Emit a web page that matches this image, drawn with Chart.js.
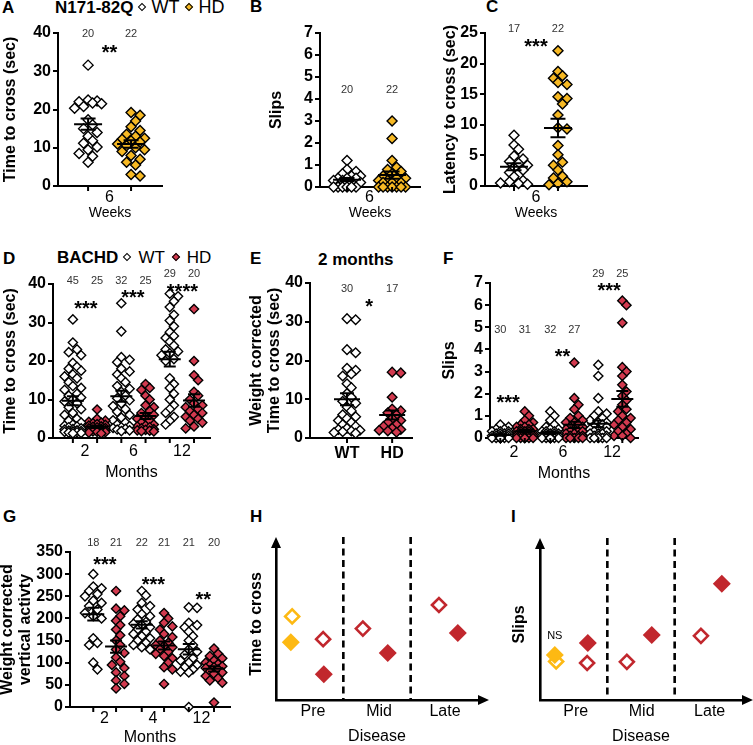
<!DOCTYPE html>
<html>
<head>
<meta charset="utf-8">
<script src="https://cdn.jsdelivr.net/npm/chart.js@4.4.1/dist/chart.umd.min.js"></script>
<style>
  html, body { margin: 0; padding: 0; background: #fff; }
  body { width: 753px; height: 745px; position: relative; overflow: hidden;
         font-family: "Liberation Sans", Arial, Helvetica, sans-serif; color: #000; }
  .box { position: absolute; }
  .lt { position: absolute; font-weight: bold; font-size: 17px; line-height: 1; }
  .hd { position: absolute; font-size: 18px; line-height: 1; white-space: nowrap; }
  .dm { display: inline-block; width: 4px; height: 4px; border: 1.5px solid #000;
        transform: rotate(45deg); vertical-align: 3px; }
</style>
</head>
<body>
<div class="lt" style="left:2px;top:-1px">A</div>
<div class="lt" style="left:250px;top:-2px">B</div>
<div class="lt" style="left:486px;top:-2px">C</div>
<div class="lt" style="left:3px;top:250px">D</div>
<div class="lt" style="left:250px;top:250px">E</div>
<div class="lt" style="left:443px;top:250px">F</div>
<div class="lt" style="left:3px;top:508px">G</div>
<div class="lt" style="left:250px;top:508px">H</div>
<div class="lt" style="left:511px;top:508px">I</div>

<div class="hd" style="left:55px;top:-2px"><b style="font-size:17px">N171-82Q</b><span class="dm" style="background:#fff;margin:0 6px 0 6px"></span>WT<span class="dm" style="background:#F7B924;margin:0 6px 0 7px"></span>HD</div>
<div class="hd" style="left:57px;top:249px;font-size:17px"><b>BACHD</b><span class="dm" style="background:#fff;margin:0 8px 0 6px"></span>WT<span class="dm" style="background:#D23A4F;margin:0 8px 0 8px"></span>HD</div>
<div class="lt" style="left:318px;top:251px">2 months</div>

<script>
// ---- data ----
// A: N171-82Q, time to cross (sec), 6 weeks
const a_wt = [31.6, 22.5, 22.2, 22.0, 21.7, 21.5, 20.8, 20.3, 17.3, 16.0, 15.0, 14.0, 13.0, 11.8, 11.2, 10.2, 9.5, 8.5, 7.8, 6.2];
const a_hd = [19.2, 18.5, 17.0, 15.5, 14.5, 13.5, 13.0, 12.5, 12.2, 11.8, 11.5, 11.0, 10.5, 10.0, 9.5, 9.0, 8.0, 7.0, 6.2, 5.5, 3.0, 2.6];
// B: N171-82Q, slips
const b_wt = [1.2, 0.8, 0.7, 0.6, 0.5, 0.5, 0.4, 0.4, 0.4, 0.3, 0.3, 0.2, 0.2, 0.2, 0, 0, 0, 0, 0, 0];
const b_hd = [3.0, 2.2, 1.2, 0.9, 0.8, 0.7, 0.6, 0.5, 0.4, 0.4, 0.3, 0.3, 0.2, 0.2, 0.2, 0, 0, 0, 0, 0, 0, 0];
// C: N171-82Q, latency to cross (sec)
const c_wt = [8.3, 6.7, 6.0, 4.9, 4.4, 4.0, 3.7, 3.4, 3.0, 2.6, 2.2, 1.5, 0.9, 0.7, 0.5, 0.4, 0.3];
const c_hd = [22.1, 18.7, 18.0, 17.6, 16.9, 16.6, 14.6, 14.3, 13.4, 11.6, 9.5, 9.3, 6.6, 5.1, 3.9, 3.4, 2.6, 1.6, 1.3, 0.7, 0.4, 0.2];
// D: BACHD, time to cross (sec) at 2, 6, 12 months
const d_wt2 = [30.8, 24.8, 23, 22.3, 21.5, 19.5, 18.5, 18, 17.5, 16.5, 16, 15.5, 14.5, 13.5, 13, 12.5, 11.5, 11, 10.5, 10, 9.5, 9, 8, 7.5, 6.5, 6, 5, 4.5, 4, 3.5, 3.2, 3, 2.8, 2.5, 2.3, 2.2, 2, 1.9, 1.8, 1.7, 1.6, 1.5, 1.4, 1.3, 1.2];
const d_hd2 = [7.4, 5.0, 4.5, 4.2, 4.0, 3.8, 3.6, 3.4, 3.2, 3.0, 2.9, 2.8, 2.6, 2.5, 2.4, 2.2, 2.1, 2.0, 1.9, 1.8, 1.7, 1.6, 1.5, 1.4, 1.2];
const d_wt6 = [35, 27.7, 21, 20.3, 19.7, 18, 17.3, 16.5, 15.5, 14.5, 13.5, 12.8, 12, 11, 10.3, 9.8, 9, 8.3, 7.5, 6.8, 6, 5.3, 4.6, 4, 3.5, 3.1, 2.8, 2.6, 2.4, 2.2, 2.0, 1.8];
const d_hd6 = [14, 13, 12.5, 11, 10, 8.5, 8, 7, 6.5, 6, 5.5, 5, 4.5, 4, 3.5, 3.2, 3, 2.8, 2.5, 2.3, 2.1, 2, 1.9, 1.8, 1.7];
const d_wt12 = [37.5, 36.8, 35.5, 34, 32, 30.5, 29, 27.5, 26.5, 26, 25, 24, 23, 22.5, 22, 21.5, 20.5, 20, 15.5, 14, 13, 11.5, 10, 8.5, 7.5, 6.5, 5.5, 4.5, 3.5];
const d_hd12 = [33.5, 20, 16.3, 15, 12, 11, 10, 9, 8.5, 8, 7.5, 7, 6.5, 6, 5.5, 5, 4.5, 4, 3, 2.5];
// E: BACHD 2 months, weight corrected time to cross (sec)
const e_wt = [30.8, 30.5, 22.8, 22, 18, 17.5, 16.5, 16, 14, 13, 11.5, 10.5, 9.5, 9, 8, 7, 6, 5.5, 5, 4.5, 4, 3.5, 3, 2.5, 2.2, 2, 1.8, 1.6, 1.4, 1.2];
const e_hd = [17, 16.8, 10.5, 7.5, 7, 6.5, 6, 5, 4.5, 4, 3.5, 3, 2.5, 2.2, 2, 1.8, 1.5];
// F: BACHD slips at 2, 6, 12 months
const f_wt2 = [0.6, 0.5, 0.4, 0.4, 0.3, 0.3, 0.3, 0.2, 0.2, 0.2, 0.2, 0.1, 0.1, 0.1, 0.1, 0.1, 0, 0, 0, 0, 0, 0, 0, 0, 0, 0, 0, 0, 0, 0];
const f_hd2 = [1.2, 1.0, 0.8, 0.7, 0.6, 0.6, 0.5, 0.5, 0.4, 0.4, 0.4, 0.3, 0.3, 0.3, 0.3, 0.2, 0.2, 0.2, 0.2, 0.1, 0.1, 0.1, 0.1, 0.1, 0, 0, 0, 0, 0, 0, 0];
const f_wt6 = [1.2, 1.0, 0.8, 0.6, 0.5, 0.4, 0.4, 0.3, 0.3, 0.3, 0.2, 0.2, 0.2, 0.2, 0.1, 0.1, 0.1, 0.1, 0.1, 0.1, 0, 0, 0, 0, 0, 0, 0, 0, 0, 0, 0, 0];
const f_hd6 = [3.4, 1.8, 1.5, 1.3, 1.0, 0.9, 0.8, 0.7, 0.7, 0.6, 0.5, 0.5, 0.4, 0.4, 0.3, 0.3, 0.3, 0.2, 0.2, 0.1, 0.1, 0.1, 0, 0, 0, 0, 0];
const f_wt12 = [3.3, 2.8, 1.8, 1.2, 1.1, 1.0, 0.9, 0.8, 0.7, 0.7, 0.6, 0.5, 0.5, 0.4, 0.4, 0.3, 0.3, 0.3, 0.2, 0.2, 0.2, 0.1, 0.1, 0.1, 0, 0, 0, 0, 0];
const f_hd12 = [6.2, 6.0, 5.2, 3.2, 3.0, 2.8, 2.4, 2.1, 1.9, 1.7, 1.5, 1.3, 1.2, 1.0, 0.9, 0.8, 0.7, 0.6, 0.5, 0.4, 0.3, 0.2, 0.1, 0.1, 0];
// G: BACHD weight corrected vertical activity at 2, 4, 12 months
const g_wt2 = [300, 272, 268, 262, 255, 250, 240, 235, 228, 220, 212, 205, 200, 155, 145, 140, 100, 85];
const g_hd2 = [262, 222, 218, 205, 195, 185, 175, 162, 150, 140, 130, 122, 112, 102, 95, 88, 78, 70, 60, 52, 42];
const g_wt4 = [262, 252, 235, 228, 220, 210, 205, 198, 192, 188, 185, 180, 175, 170, 165, 160, 155, 150, 145, 140, 135, 130];
const g_hd4 = [212, 200, 190, 182, 175, 165, 158, 150, 145, 140, 138, 135, 130, 125, 120, 115, 110, 100, 90, 85, 52];
const g_wt12 = [225, 224, 190, 185, 180, 170, 160, 150, 140, 130, 125, 118, 110, 105, 100, 95, 90, 85, 80, 78, 0];
const g_hd12 = [132, 120, 115, 110, 105, 100, 97, 95, 92, 90, 88, 85, 80, 78, 75, 70, 65, 60, 55, 10];
// H, I: schematic summaries (arbitrary units); x = position along disease stage
const h_n171WT = [5.5], h_n171HD = [3.8], h_bachdWT = [4.0, 4.7, 6.25], h_bachdHD = [1.7, 3.1, 4.4];
const h_xN171WT = [0.24], h_xN171HD = [0.22], h_xWT = [0.70, 1.29, 2.42], h_xHD = [0.71, 1.66, 2.70];
const i_n171WT = [2.55], i_n171HD = [2.98], i_bachdWT = [2.45, 2.53, 4.25], i_bachdHD = [3.77, 4.3, 7.7];
const i_xN171WT = [0.24], i_xN171HD = [0.22], i_xWT = [0.70, 1.29, 2.39], i_xHD = [0.71, 1.66, 2.70];

// tick labels
const weekTicks = ['6'];
const monthTicksD = ['2', '6', '12'];
const monthTicksG = ['2', '4', '12'];
const genotypeTicks = ['WT', 'HD'];
const stageTicks = ['Pre', 'Mid', 'Late'];

const FONT = '"Liberation Sans", Arial, Helvetica, sans-serif';
const YELLOW = '#F7B924';
const RED = '#D23A4F';
const SCH_YELLOW = '#FDB913';
const SCH_RED = '#C1272D';

Chart.defaults.font.family = FONT;
Chart.defaults.color = '#000';
Chart.defaults.animation = false;

function addBox(left, top, width, height) {
  const box = document.createElement('div');
  box.className = 'box';
  box.style.left = left + 'px';
  box.style.top = top + 'px';
  box.style.width = width + 'px';
  box.style.height = height + 'px';
  const canvas = document.createElement('canvas');
  box.appendChild(canvas);
  document.body.appendChild(box);
  return canvas;
}

// simple deterministic beeswarm: spread close values sideways
function swarm(values, cx, pxX, pxY, r, maxK) {
  const order = values.map((v, i) => i).sort((i, j) => values[j] - values[i]);
  const placed = [];
  const out = new Array(values.length);
  const ks = [0];
  for (let k = 1; k <= maxK; k++) ks.push(k, -k);
  for (const i of order) {
    const py = values[i] * pxY;
    let best = 0, bestD = -1;
    for (const k of ks) {
      const px = k * 0.9 * r;
      let dmin = Infinity;
      for (const p of placed) dmin = Math.min(dmin, Math.abs(p.px - px) + Math.abs(p.py - py));
      if (dmin >= 1.7 * r) { best = px; bestD = dmin; break; }
      if (dmin > bestD) { bestD = dmin; best = px; }
    }
    placed.push({ px: best, py });
    out[i] = { x: cx + best / pxX, y: values[i] };
  }
  return out;
}

function meanSem(v) {
  const n = v.length;
  const m = v.reduce((s, x) => s + x, 0) / n;
  const sd = Math.sqrt(v.reduce((s, x) => s + (x - m) * (x - m), 0) / (n - 1));
  return { m, se: sd / Math.sqrt(n) };
}

function columnPanel(p) {
  const yW = p.left - p.boxLeft;
  const canvas = addBox(p.boxLeft, p.top - p.padT, yW + (p.right - p.left) + p.padR, p.padT + (p.bottom - p.top) + p.xH);
  const pxX = (p.right - p.left) / (p.xMax - p.xMin);
  const pxY = (p.bottom - p.top) / (p.yMax - p.yMin);
  const datasets = p.groups.map(g => ({
    data: swarm(g.values, g.x, pxX, pxY, p.r, p.maxK),
    pointStyle: 'rectRot',
    pointRadius: p.r,
    pointHoverRadius: p.r,
    backgroundColor: g.color,
    borderColor: '#000',
    borderWidth: 1.4,
    clip: false,
  }));
  const extras = {
    id: 'extras',
    afterDatasetsDraw(chart) {
      const { ctx, chartArea, scales: { x, y } } = chart;
      ctx.save();
      ctx.strokeStyle = '#000';
      ctx.lineWidth = 2;
      p.groups.forEach((g, i) => {
        const px = x.getPixelForValue(g.x);
        const { m, se } = meanSem(g.values);
        const ym = y.getPixelForValue(m), ylo = y.getPixelForValue(m - se), yhi = y.getPixelForValue(m + se);
        ctx.beginPath();
        ctx.moveTo(px, chartArea.bottom); ctx.lineTo(px, chartArea.bottom + 5);
        ctx.moveTo(px - p.meanW / 2, ym); ctx.lineTo(px + p.meanW / 2, ym);
        ctx.moveTo(px - p.capW / 2, ylo); ctx.lineTo(px + p.capW / 2, ylo);
        ctx.moveTo(px - p.capW / 2, yhi); ctx.lineTo(px + p.capW / 2, yhi);
        ctx.moveTo(px, ylo); ctx.lineTo(px, yhi);
        ctx.stroke();
        ctx.fillStyle = '#333';
        ctx.font = '11px ' + FONT;
        ctx.textAlign = 'center';
        ctx.textBaseline = 'middle';
        ctx.fillText(String(g.values.length), px, chartArea.top + p.countDy[i]);
      });
      ctx.fillStyle = '#000';
      ctx.font = 'bold 20px ' + FONT;
      ctx.textAlign = 'center';
      ctx.textBaseline = 'alphabetic';
      (p.stars || []).forEach(s => ctx.fillText(s.t, x.getPixelForValue(s.x), chartArea.top + s.dy + 11.5));
      ctx.restore();
    },
  };
  new Chart(canvas, {
    type: 'scatter',
    data: { datasets },
    options: {
      responsive: true,
      maintainAspectRatio: false,
      animation: false,
      layout: { padding: { top: p.padT, right: p.padR, left: 0, bottom: 0 } },
      plugins: { legend: { display: false }, tooltip: { enabled: false } },
      scales: {
        x: {
          type: 'linear', min: p.xMin, max: p.xMax,
          afterBuildTicks: s => { s.ticks = p.xTicks.map(v => ({ value: v })); },
          afterFit: s => { s.height = p.xH; s.paddingLeft = 0; s.paddingRight = 0; },
          grid: { display: false, drawTicks: false },
          border: { display: true, color: '#000', width: 2 },
          ticks: { callback: (v, i) => p.xLabels[i], font: p.xFont || { size: 16 }, color: '#000', padding: p.xPad, maxRotation: 0, autoSkip: false },
          title: p.xTitle
            ? { display: true, text: p.xTitle, font: { size: p.xTitleSize || 16 }, color: '#000', padding: 0 }
            : { display: false },
        },
        y: {
          type: 'linear', min: p.yMin, max: p.yMax,
          afterFit: s => { s.width = yW; s.paddingTop = 0; s.paddingBottom = 0; },
          ticks: { stepSize: p.yStep, maxTicksLimit: 20, autoSkip: false, font: { size: 16, weight: 'bold', lineHeight: 1 }, color: '#000', padding: 2 },
          grid: { display: true, drawOnChartArea: false, drawTicks: true, tickLength: 5, color: '#000', lineWidth: 2 },
          border: { display: true, color: '#000', width: 2 },
          title: { display: true, text: p.yTitle, font: { size: 16, weight: 'bold', lineHeight: 1.1 }, color: '#000', padding: 0 },
        },
      },
    },
    plugins: [extras],
  });
}

function schematicPanel(p) {
  const yW = p.left - p.boxLeft;
  const canvas = addBox(p.boxLeft, p.top - p.padT, yW + (p.right - p.left) + p.padR, p.padT + (p.bottom - p.top) + p.xH);
  const datasets = p.series.map(s => ({
    data: s.xs.map((x, i) => ({ x, y: s.ys[i] })),
    pointStyle: 'rectRot',
    pointRadius: s.open ? 7 : 9,
    pointHoverRadius: s.open ? 7 : 9,
    backgroundColor: s.open ? '#fff' : s.color,
    borderColor: s.color,
    borderWidth: s.open ? 2.6 : 0,
    clip: false,
  }));
  const extras = {
    id: 'extras',
    afterDatasetsDraw(chart) {
      const { ctx, chartArea: a, scales: { x } } = chart;
      ctx.save();
      ctx.fillStyle = '#000';
      ctx.strokeStyle = '#000';
      ctx.lineWidth = 2.6;
      // arrow heads on both axes
      ctx.beginPath();
      ctx.moveTo(a.left - 5, a.top); ctx.lineTo(a.left + 5, a.top); ctx.lineTo(a.left, a.top - 11); ctx.closePath();
      ctx.moveTo(a.right, a.bottom - 5); ctx.lineTo(a.right, a.bottom + 5); ctx.lineTo(a.right + 11, a.bottom); ctx.closePath();
      ctx.fill();
      // stage boundaries
      ctx.setLineDash([7, 4.5]);
      [1, 2].forEach(v => {
        const px = x.getPixelForValue(v);
        ctx.beginPath(); ctx.moveTo(px, a.top - 11); ctx.lineTo(px, a.bottom); ctx.stroke();
      });
      ctx.setLineDash([]);
      if (p.note) {
        ctx.font = '11px ' + FONT;
        ctx.textAlign = 'center';
        ctx.textBaseline = 'middle';
        ctx.fillText(p.note.t, x.getPixelForValue(p.note.x), a.top + p.note.dy);
      }
      ctx.restore();
    },
  };
  new Chart(canvas, {
    type: 'scatter',
    data: { datasets },
    options: {
      responsive: true,
      maintainAspectRatio: false,
      animation: false,
      layout: { padding: { top: p.padT, right: p.padR, left: 0, bottom: 0 } },
      plugins: { legend: { display: false }, tooltip: { enabled: false } },
      scales: {
        x: {
          type: 'linear', min: 0, max: 3,
          afterBuildTicks: s => { s.ticks = p.xTicks.map(v => ({ value: v })); },
          afterFit: s => { s.height = p.xH; s.paddingLeft = 0; s.paddingRight = 0; },
          grid: { display: false, drawTicks: false },
          border: { display: true, color: '#000', width: 2.6 },
          ticks: { callback: (v, i) => stageTicks[i], font: { size: 16 }, color: '#000', padding: 1.5, maxRotation: 0, autoSkip: false },
          title: { display: true, text: 'Disease', font: { size: 16 }, color: '#000', padding: 0 },
        },
        y: {
          type: 'linear', min: 0, max: 10,
          afterFit: s => { s.width = yW; s.paddingTop = 0; s.paddingBottom = 0; },
          ticks: { display: false },
          grid: { display: false, drawTicks: false },
          border: { display: true, color: '#000', width: 2.6 },
          title: { display: true, text: p.yTitle, font: { size: 16, weight: 'bold' }, color: '#000', padding: 0 },
        },
      },
    },
    plugins: [extras],
  });
}

// ---- panels ----
columnPanel({
  boxLeft: 2, left: 58, top: 33, right: 162, bottom: 186, padT: 14, padR: 10, xH: 36,
  xMin: 0.30, xMax: 2.72, yMin: 0, yMax: 40, yStep: 10, r: 5, maxK: 3, meanW: 28, capW: 15,
  xTicks: [1.5], xLabels: weekTicks, xPad: 2, xTitle: 'Weeks', xTitleSize: 14,
  yTitle: 'Time to cross (sec)',
  groups: [{ x: 1, values: a_wt, color: '#fff' }, { x: 2, values: a_hd, color: YELLOW }],
  countDy: [1, 1], stars: [{ x: 1.5, dy: 14, t: '**' }],
});
columnPanel({
  boxLeft: 268, left: 320, top: 33, right: 420, bottom: 187, padT: 14, padR: 10, xH: 35,
  xMin: 0.40, xMax: 2.62, yMin: 0, yMax: 7, yStep: 1, r: 5, maxK: 3, meanW: 28, capW: 15,
  xTicks: [1.5], xLabels: weekTicks, xPad: 1, xTitle: 'Weeks', xTitleSize: 14,
  yTitle: 'Slips',
  groups: [{ x: 1, values: b_wt, color: '#fff' }, { x: 2, values: b_hd, color: YELLOW }],
  countDy: [57, 57],
});
columnPanel({
  boxLeft: 442, left: 485, top: 33, right: 587, bottom: 186, padT: 14, padR: 10, xH: 36,
  xMin: 0.34, xMax: 2.66, yMin: 0, yMax: 25, yStep: 5, r: 5, maxK: 3, meanW: 28, capW: 15,
  xTicks: [1.5], xLabels: weekTicks, xPad: 2, xTitle: 'Weeks', xTitleSize: 14,
  yTitle: 'Latency to cross (sec)',
  groups: [{ x: 1, values: c_wt, color: '#fff' }, { x: 2, values: c_hd, color: YELLOW }],
  countDy: [-4.5, -4.5], stars: [{ x: 1.5, dy: 8, t: '***' }],
});
columnPanel({
  boxLeft: 2, left: 53, top: 284, right: 210, bottom: 438, padT: 26, padR: 10, xH: 44,
  xMin: 0.34, xMax: 3.58, yMin: 0, yMax: 40, yStep: 10, r: 4.6, maxK: 2, meanW: 22, capW: 12,
  xTicks: [1, 2, 3], xLabels: monthTicksD, xPad: 4, xTitle: 'Months',
  yTitle: 'Time to cross (sec)',
  groups: [
    { x: 0.75, values: d_wt2, color: '#fff' }, { x: 1.25, values: d_hd2, color: RED },
    { x: 1.75, values: d_wt6, color: '#fff' }, { x: 2.25, values: d_hd6, color: RED },
    { x: 2.75, values: d_wt12, color: '#fff' }, { x: 3.25, values: d_hd12, color: RED },
  ],
  countDy: [-3.5, -3.5, -3.5, -3.5, -10.5, -10.5],
  stars: [{ x: 1.02, dy: 19.5, t: '***' }, { x: 1.99, dy: 8, t: '***' }, { x: 3.01, dy: 2, t: '****' }],
});
columnPanel({
  boxLeft: 248, left: 310, top: 283, right: 412, bottom: 438, padT: 14, padR: 10, xH: 30,
  xMin: 0.18, xMax: 2.44, yMin: 0, yMax: 40, yStep: 10, r: 4.8, maxK: 3, meanW: 26, capW: 14,
  xTicks: [1, 2], xLabels: genotypeTicks, xPad: 6, xFont: { size: 16, weight: 'bold' },
  yTitle: ['Weight corrected', 'Time to cross (sec)'],
  groups: [{ x: 1, values: e_wt, color: '#fff' }, { x: 2, values: e_hd, color: RED }],
  countDy: [5.5, 5.5], stars: [{ x: 1.49, dy: 18, t: '*' }],
});
columnPanel({
  boxLeft: 441, left: 490, top: 283, right: 638, bottom: 438, padT: 26, padR: 12, xH: 45,
  xMin: 0.51, xMax: 3.53, yMin: 0, yMax: 7, yStep: 1, r: 4.6, maxK: 2, meanW: 22, capW: 12,
  xTicks: [1, 2, 3], xLabels: monthTicksD, xPad: 5, xTitle: 'Months',
  yTitle: 'Slips',
  groups: [
    { x: 0.72, values: f_wt2, color: '#fff' }, { x: 1.22, values: f_hd2, color: RED },
    { x: 1.74, values: f_wt6, color: '#fff' }, { x: 2.23, values: f_hd6, color: RED },
    { x: 2.72, values: f_wt12, color: '#fff' }, { x: 3.21, values: f_hd12, color: RED },
  ],
  countDy: [47, 47, 47, 47, -9.5, -9.5],
  stars: [{ x: 0.88, dy: 114.5, t: '***' }, { x: 1.99, dy: 68, t: '**' }, { x: 2.94, dy: 2, t: '***' }],
});
columnPanel({
  boxLeft: -1, left: 70, top: 552, right: 230, bottom: 707, padT: 18, padR: 10, xH: 40,
  xMin: 0.29, xMax: 3.59, yMin: 0, yMax: 350, yStep: 50, r: 4.6, maxK: 2, meanW: 22, capW: 12,
  xTicks: [1, 2, 3], xLabels: monthTicksG, xPad: 1.5, xTitle: 'Months',
  yTitle: ['Weight corrected', 'vertical activty'],
  groups: [
    { x: 0.77, values: g_wt2, color: '#fff' }, { x: 1.24, values: g_hd2, color: RED },
    { x: 1.77, values: g_wt4, color: '#fff' }, { x: 2.23, values: g_hd4, color: RED },
    { x: 2.74, values: g_wt12, color: '#fff' }, { x: 3.26, values: g_hd12, color: RED },
  ],
  countDy: [-9.5, -9.5, -9.5, -9.5, -9.5, -9.5],
  stars: [{ x: 1.01, dy: 7, t: '***' }, { x: 2.01, dy: 27, t: '***' }, { x: 3.04, dy: 42, t: '**' }],
});
schematicPanel({
  boxLeft: 247, left: 276, top: 548, right: 478, bottom: 700, padT: 14, padR: 14, xH: 46,
  xTicks: [0.55, 1.53, 2.51], yTitle: 'Time to cross',
  series: [
    { xs: h_xN171HD, ys: h_n171HD, color: SCH_YELLOW, open: false },
    { xs: h_xN171WT, ys: h_n171WT, color: SCH_YELLOW, open: true },
    { xs: h_xHD, ys: h_bachdHD, color: SCH_RED, open: false },
    { xs: h_xWT, ys: h_bachdWT, color: SCH_RED, open: true },
  ],
});
schematicPanel({
  boxLeft: 510, left: 540, top: 549, right: 742, bottom: 700, padT: 14, padR: 13, xH: 46,
  xTicks: [0.53, 1.51, 2.52], yTitle: 'Slips',
  series: [
    { xs: i_xN171HD, ys: i_n171HD, color: SCH_YELLOW, open: false },
    { xs: i_xN171WT, ys: i_n171WT, color: SCH_YELLOW, open: true },
    { xs: i_xHD, ys: i_bachdHD, color: SCH_RED, open: false },
    { xs: i_xWT, ys: i_bachdWT, color: SCH_RED, open: true },
  ],
  note: { t: 'NS', x: 0.22, dy: 87 },
});
</script>
</body>
</html>
